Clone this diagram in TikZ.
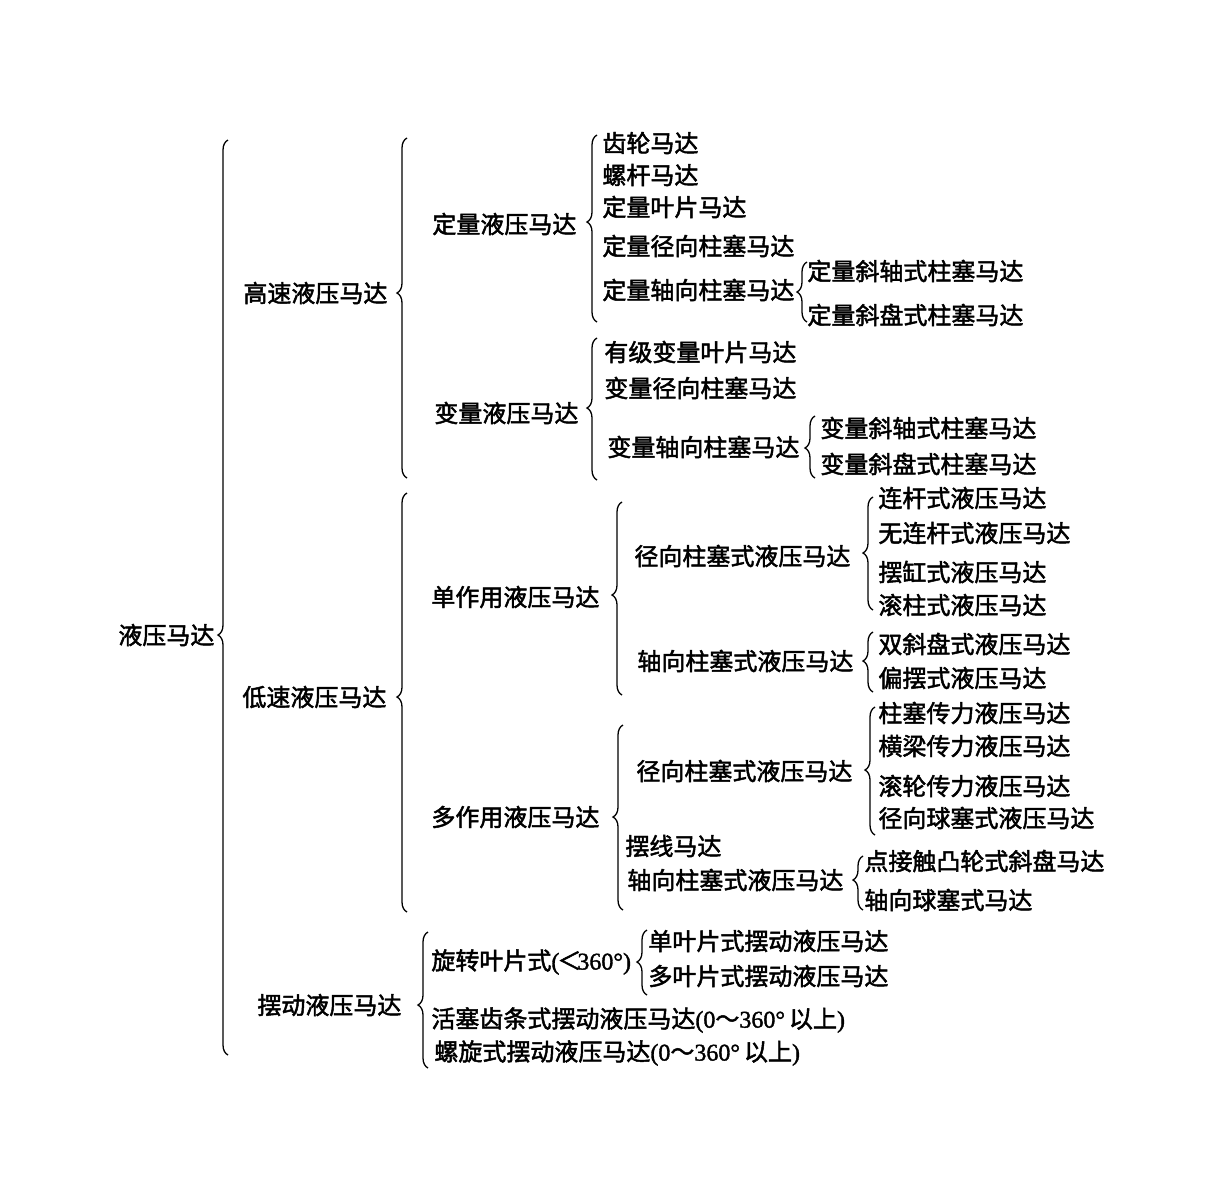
\documentclass[tikz,border=0pt]{standalone}
\usepackage{fontspec}
\setmainfont{Liberation Serif}[FakeBold=1.5]
\newfontfamily\cjk{Noto Sans CJK SC}[FakeBold=2]
\usetikzlibrary{decorations.pathreplacing}

\tikzset{
  txt/.style={anchor=west, inner sep=0pt, font=\fontsize{12}{14}\selectfont\cjk},
  brc/.style={line width=0.65pt, decorate}
}
% brace: spine x, top, tip, bottom
\newcommand\brc[4]{%
  \pgfmathsetmacro\brcasp{(#4-#3)/(#4-#2)}%
  \draw[brc, decoration={brace, amplitude=5pt, aspect=\brcasp}] (#1+5,#4) -- (#1+5,#2);}

\begin{document}
\begin{tikzpicture}[x=0.5pt, y=-0.5pt]
\useasboundingbox (0,0) rectangle (1224,1200);

% Root
\node[txt] (root) at (118,635) {液压马达};
\brc{223}{140}{635}{1055}

% Level 1
\node[txt] (hs) at (243,293) {高速液压马达};
\node[txt] (ls) at (242,697) {低速液压马达};
\node[txt] (bd) at (257,1005) {摆动液压马达};
\brc{402}{138}{293}{478}
\brc{402}{493}{697}{912}
\brc{423}{932}{1005}{1068}

% High speed
\node[txt] (dl) at (432,224) {定量液压马达};
\node[txt] (bl) at (434,413) {变量液压马达};
\brc{592}{135}{222}{322}
\brc{592}{338}{408}{480}

\node[txt] (gear) at (602,143) {齿轮马达};
\node[txt] (screw) at (602,175) {螺杆马达};
\node[txt] (vane) at (602,207) {定量叶片马达};
\node[txt] (radf) at (602,246) {定量径向柱塞马达};
\node[txt] (axf) at (602,290) {定量轴向柱塞马达};
\brc{802}{262}{292}{322}
\node[txt] (axfa) at (807,271) {定量斜轴式柱塞马达};
\node[txt] (axfb) at (807,315) {定量斜盘式柱塞马达};

\node[txt] (vvane) at (604,352) {有级变量叶片马达};
\node[txt] (radv) at (604,388) {变量径向柱塞马达};
\node[txt] (axv) at (607,447) {变量轴向柱塞马达};
\brc{810}{416}{448}{478}
\node[txt] (axva) at (820,428) {变量斜轴式柱塞马达};
\node[txt] (axvb) at (820,464) {变量斜盘式柱塞马达};

% Low speed
\node[txt] (sa) at (431,597) {单作用液压马达};
\node[txt] (ma) at (431,817) {多作用液压马达};
\brc{617}{502}{595}{695}
\brc{618}{725}{817}{910}

\node[txt] (sar) at (634,556) {径向柱塞式液压马达};
\brc{868}{497}{553}{610}
\node[txt] (sara) at (878,498) {连杆式液压马达};
\node[txt] (sarb) at (878,533) {无连杆式液压马达};
\node[txt] (sarc) at (878,572) {摆缸式液压马达};
\node[txt] (sard) at (878,605) {滚柱式液压马达};

\node[txt] (saa) at (637,661) {轴向柱塞式液压马达};
\brc{868}{632}{661}{692}
\node[txt] (saaa) at (878,644) {双斜盘式液压马达};
\node[txt] (saab) at (878,678) {偏摆式液压马达};

\node[txt] (mar) at (636,771) {径向柱塞式液压马达};
\brc{870}{707}{770}{835}
\node[txt] (mara) at (878,713) {柱塞传力液压马达};
\node[txt] (marb) at (878,746) {横梁传力液压马达};
\node[txt] (marc) at (878,786) {滚轮传力液压马达};
\node[txt] (mard) at (878,818) {径向球塞式液压马达};

\node[txt] (cyc) at (625,846) {摆线马达};
\node[txt] (maa) at (627,880) {轴向柱塞式液压马达};
\brc{858}{856}{880}{910}
\node[txt] (maaa) at (864,861) {点接触凸轮式斜盘马达};
\node[txt] (maab) at (864,900) {轴向球塞式马达};

% Swing
\node[txt] (rv) at (431,962) {旋转叶片式{\rmfamily(}\kern-1pt＜\kern-2pt{\rmfamily 360°)}};
\brc{642}{930}{962}{995}
\node[txt] (rva) at (648,941) {单叶片式摆动液压马达};
\node[txt] (rvb) at (648,976) {多叶片式摆动液压马达};
\node[txt] (rack) at (431,1020) {活塞齿条式摆动液压马达{\rmfamily(0}～{\rmfamily 360°\,}以上{\rmfamily)}};
\node[txt] (hel) at (434,1053) {螺旋式摆动液压马达{\rmfamily(0}～{\rmfamily 360°\,}以上{\rmfamily)}};
\end{tikzpicture}
\end{document}
